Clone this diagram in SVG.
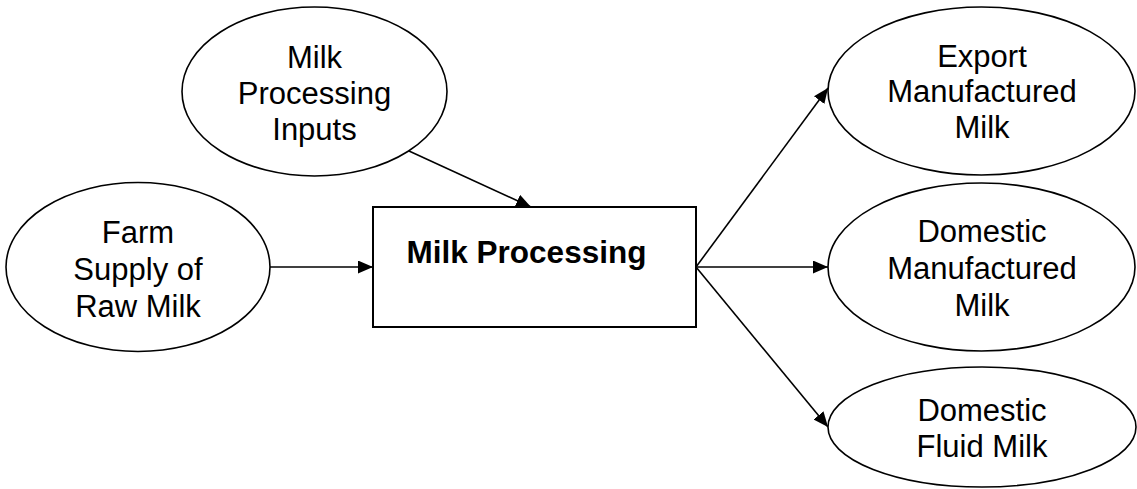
<svg xmlns="http://www.w3.org/2000/svg" width="1137" height="489" viewBox="0 0 1137 489">
<style>
.node ellipse,.node rect{fill:#fff;stroke:#000;stroke-width:1.6}
.node rect{stroke-width:2}
text{font-family:"Liberation Sans",Arial,sans-serif;font-size:31px;fill:#000;text-anchor:middle}
.b{font-weight:bold;font-size:31.5px}
.edges line{stroke:#000;stroke-width:1.6;marker-end:url(#ah)}
</style>
<defs>
<marker id="ah" markerUnits="userSpaceOnUse" markerWidth="16" markerHeight="13" refX="15" refY="6.5" orient="auto">
<path d="M0,0 L15,6.5 L0,13 z" fill="#000"/>
</marker>
</defs>
<g class="edges">
<line x1="409" y1="151" x2="531" y2="207"/>
<line x1="270" y1="267" x2="373" y2="267"/>
<line x1="696" y1="267" x2="828" y2="88"/>
<line x1="696" y1="267" x2="828" y2="267"/>
<line x1="696" y1="267" x2="828" y2="427"/>
</g>
<g id="inputs" class="node">
<ellipse cx="314.5" cy="91.5" rx="132.5" ry="84.5"/>
<text x="314.5" y="68">Milk</text>
<text x="314.5" y="104">Processing</text>
<text x="314.5" y="140">Inputs</text>
</g>
<g id="farm" class="node">
<ellipse cx="138" cy="267" rx="132" ry="84.5"/>
<text x="138" y="243">Farm</text>
<text x="138" y="280">Supply of</text>
<text x="138" y="317">Raw Milk</text>
</g>
<g id="processing" class="node">
<rect x="373" y="207" width="323" height="120"/>
<text class="b" x="526.5" y="263">Milk Processing</text>
</g>
<g id="export" class="node">
<ellipse cx="981.5" cy="91" rx="153.5" ry="84"/>
<text x="982" y="67">Export</text>
<text x="982" y="102">Manufactured</text>
<text x="982" y="138">Milk</text>
</g>
<g id="domestic-manufactured" class="node">
<ellipse cx="981.5" cy="267" rx="153.5" ry="84"/>
<text x="982" y="242">Domestic</text>
<text x="982" y="279">Manufactured</text>
<text x="982" y="316">Milk</text>
</g>
<g id="domestic-fluid" class="node">
<ellipse cx="982" cy="427" rx="154" ry="60"/>
<text x="982" y="421">Domestic</text>
<text x="982" y="457">Fluid Milk</text>
</g>
</svg>
